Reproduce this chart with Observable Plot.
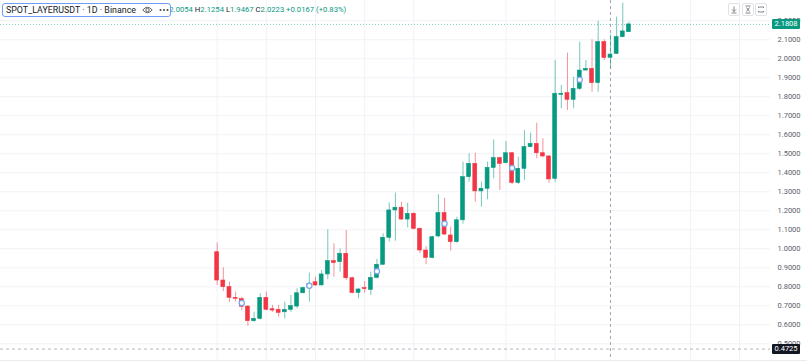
<!DOCTYPE html>
<html><head><meta charset="utf-8">
<script src="https://cdn.jsdelivr.net/npm/d3@7"></script>
<script src="https://cdn.jsdelivr.net/npm/@observablehq/plot@0.6"></script>
<style>
body{margin:0;background:#fff;font-family:Roboto,"Noto Sans",sans-serif;}
#wrap{position:relative;width:807px;height:363px;overflow:hidden;background:#fff;}
#chart{position:absolute;left:0;top:0;}
#ohlc{position:absolute;left:164px;top:4px;font-size:7.7px;line-height:12px;color:#089981;white-space:nowrap;}
#ohlc b{font-weight:400;color:#131722;}
#hdr{position:absolute;left:2px;top:3px;width:167px;height:12px;border:1px solid #6f9cf7;border-radius:3px;background:#fff;font-size:8.9px;line-height:12px;color:#131722;white-space:nowrap;}
#hdr span.t{position:absolute;left:3px;top:0;}
#hdr svg{position:absolute;}
.btn{position:absolute;top:3px;width:10px;height:11px;border:1px solid #e0e3eb;border-radius:2px;background:#fff;}
.btn svg{position:absolute;left:1px;top:1px;}
.plab{position:absolute;left:772px;width:28px;height:10px;font-size:7.5px;line-height:10px;color:#fff;text-align:center;border-radius:1px;}
#botline{position:absolute;left:0;top:360px;width:807px;height:1px;background:#e9ebf0;}
</style></head>
<body>
<div id="wrap">
  <div id="chart"></div>
  <div id="botline"></div>
  <div id="ohlc"><b>O</b>2.0054 <b>H</b>2.1254 <b>L</b>1.9467 <b>C</b>2.0223 +0.0167 (+0.83%)</div>
  <div id="hdr"><span class="t">SPOT_LAYERUSDT · 1D · Binance</span>
    <svg style="left:139px;top:2px" width="11" height="8" viewBox="0 0 11 8"><path d="M0.8 4 Q5.5 -1.5 10.2 4 Q5.5 9.5 0.8 4 Z" fill="none" stroke="#555" stroke-width="0.9"/><circle cx="5.5" cy="4" r="1.7" fill="none" stroke="#555" stroke-width="0.9"/></svg>
    <svg style="left:156px;top:4px" width="10" height="4" viewBox="0 0 10 4"><circle cx="1.5" cy="2" r="1" fill="#444"/><circle cx="5" cy="2" r="1" fill="#444"/><circle cx="8.5" cy="2" r="1" fill="#444"/></svg>
  </div>
  <div class="btn" style="left:728px"><svg width="8" height="9" viewBox="0 0 8 9"><path d="M4 1.5 V6.5 M2 4.5 L4 6.5 L6 4.5 M1.5 8 H6.5" fill="none" stroke="#666" stroke-width="0.8"/></svg></div>
  <div class="btn" style="left:742px"><svg width="8" height="9" viewBox="0 0 8 9"><path d="M1.5 1 H6.5 M1.5 8 H6.5 M2.5 2.5 L5.5 6.5 M5.5 2.5 L2.5 6.5" fill="none" stroke="#666" stroke-width="0.8"/></svg></div>
  <div class="btn" style="left:755px"><svg width="8" height="9" viewBox="0 0 8 9"><path d="M1.5 3 V2 H6.5 V3 M1.5 6 V7 H6.5 V6" fill="none" stroke="#666" stroke-width="0.8"/></svg></div>
</div>
<script>
// ---- data ----
const open  = [0.982,0.833,0.798,0.742,0.735,0.696,0.619,0.631,0.742,0.682,0.679,0.666,0.679,0.696,0.766,0.795,0.824,0.807,0.865,0.935,
               0.930,0.974,0.845,0.768,0.793,0.784,0.847,0.916,1.058,1.202,1.216,1.154,1.184,1.105,0.991,0.952,1.065,1.188,1.070,1.035,
               1.150,1.377,1.447,1.302,1.316,1.426,1.477,1.451,1.503,1.347,1.421,1.535,1.552,1.503,1.486,1.368,1.810,1.819,1.784,1.842,
               1.938,1.947,1.872,2.088,2.0054,2.026,2.114,2.140];
const high  = [1.031,0.900,0.824,0.772,0.745,0.700,0.666,0.763,0.772,0.702,0.702,0.719,0.754,0.789,0.798,0.872,0.851,0.886,1.100,1.026,
               1.000,1.096,0.850,0.789,0.828,0.877,0.944,1.079,1.242,1.293,1.245,1.240,1.190,1.110,1.012,1.065,1.284,1.266,1.114,1.166,
               1.456,1.500,1.503,1.351,1.456,1.573,1.482,1.565,1.508,1.482,1.623,1.609,1.661,1.579,1.491,1.991,1.859,2.030,1.903,2.088,
               1.991,2.100,2.198,2.100,2.1254,2.219,2.293,2.193];
const low   = [0.807,0.775,0.719,0.719,0.675,0.593,0.614,0.626,0.675,0.666,0.640,0.631,0.666,0.684,0.763,0.719,0.802,0.807,0.837,0.851,
               0.877,0.833,0.763,0.737,0.767,0.754,0.842,0.912,1.035,1.040,1.149,1.110,1.100,0.974,0.917,0.947,1.058,1.070,0.988,1.030,
               1.130,1.350,1.245,1.219,1.258,1.368,1.307,1.447,1.338,1.338,1.360,1.531,1.474,1.479,1.345,1.350,1.737,1.728,1.737,1.833,
               1.938,1.824,1.824,1.991,1.9467,2.022,2.110,2.140];
const close = [0.833,0.798,0.742,0.737,0.695,0.619,0.631,0.742,0.679,0.675,0.663,0.679,0.698,0.766,0.793,0.816,0.807,0.865,0.935,0.925,
               0.974,0.845,0.768,0.786,0.788,0.847,0.916,1.058,1.202,1.216,1.154,1.184,1.105,0.991,0.952,1.061,1.188,1.075,1.035,1.150,
               1.377,1.447,1.302,1.316,1.426,1.477,1.447,1.503,1.347,1.421,1.535,1.552,1.503,1.486,1.365,1.816,1.816,1.784,1.842,1.938,
               1.947,1.872,2.088,2.005,2.0223,2.114,2.144,2.1808];
const markerIdx = [4,15,26,37,48,59];          // candles carrying the blue event marker
const gridIdx   = [0,8,16,24,32,47,55,77,85];  // candles where vertical grid lines fall
const yTicks    = [0.5,0.6,0.7,0.8,0.9,1.0,1.1,1.2,1.3,1.4,1.5,1.6,1.7,1.8,1.9,2.0,2.1,2.2];
const lastPrice = 2.1808;
const crossPrice = 0.4725;
const crossIdx = 64;

const up = "#089981", down = "#f23645";
const candles = open.map((o,i)=>({i, o, h:high[i], l:low[i], c:close[i], col: close[i]>=o ? up : down}));
const markers = markerIdx.map(i => ({i, y:(open[i]+close[i])/2}));

const chart = Plot.plot({
  width: 807, height: 363,
  marginLeft: 0, marginRight: 37, marginTop: 0, marginBottom: 3,
  x: {domain: [-35.26, 90.04], axis: null},
  y: {domain: [0.4121, 2.3068], axis: null},
  color: {type: "identity"},
  style: {background: "transparent", fontFamily: "Roboto, sans-serif", fontSize: "7.5px", overflow: "visible"},
  marks: [
    Plot.ruleY(yTicks, {stroke: "#f0f2f6", strokeWidth: 1}),
    Plot.ruleX(gridIdx, {stroke: "#f0f2f6", strokeWidth: 1}),
    Plot.axisY(yTicks, {anchor: "right", tickSize: 0, tickPadding: 7, tickFormat: d3.format(".4f"), fill: "#5d606b", label: null}),
    Plot.ruleY([lastPrice], {stroke: up, strokeOpacity: 0.5, strokeDasharray: "1,2"}),
    Plot.ruleX([crossIdx], {stroke: "#a3a6af", strokeDasharray: "3,3", strokeWidth: 1}),
    Plot.ruleY([crossPrice], {stroke: "#b2b5be", strokeDasharray: "3,3", strokeWidth: 1}),
    Plot.ruleX(candles, {x: "i", y1: "l", y2: "h", stroke: "col", strokeOpacity: 0.55, strokeWidth: 1}),
    Plot.rect(candles, {x1: d => d.i - 0.32, x2: d => d.i + 0.32, y1: "o", y2: "c", fill: "col", stroke: "col", strokeWidth: 0.6}),
    Plot.dot(markers, {x: "i", y: "y", r: 2.6, fill: "white", stroke: "#7aa5f0", strokeWidth: 1.2})
  ]
});
document.getElementById("chart").appendChild(chart);

const ys = chart.scale("y");
const wrap = document.getElementById("wrap");
function priceLabel(v, bg){
  const d = document.createElement("div");
  d.className = "plab";
  d.style.background = bg;
  d.style.top = (ys.apply(v) - 5) + "px";
  d.textContent = d3.format(".4f")(v);
  wrap.appendChild(d);
}
priceLabel(lastPrice, up);
priceLabel(crossPrice, "#131722");
</script>
</body></html>
